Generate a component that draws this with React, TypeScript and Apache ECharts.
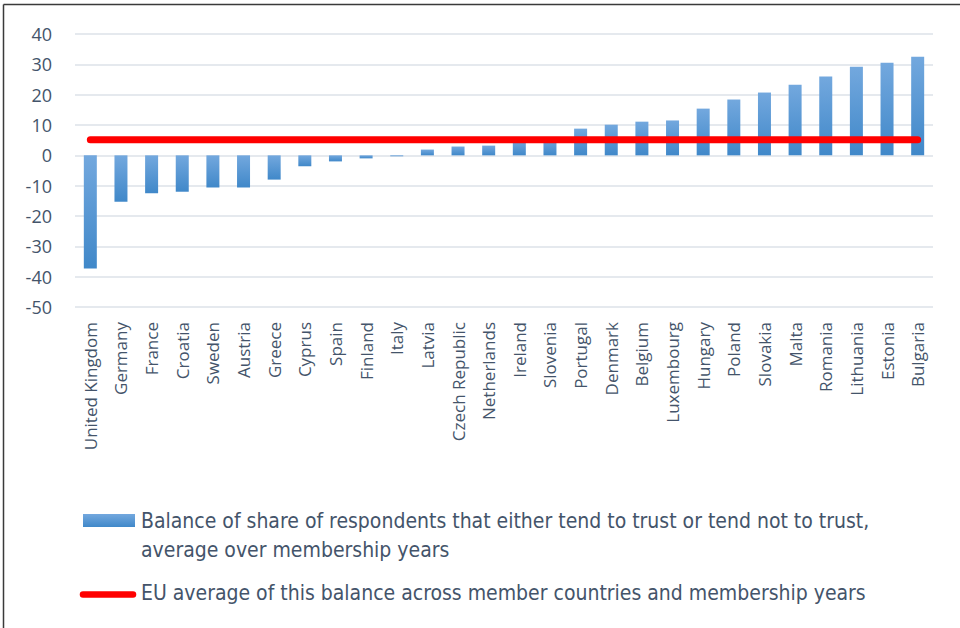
import React, { useEffect, useRef } from "react";
import * as echarts from "echarts";

const countries = [
  "United Kingdom", "Germany", "France", "Croatia", "Sweden", "Austria", "Greece",
  "Cyprus", "Spain", "Finland", "Italy", "Latvia", "Czech Republic", "Netherlands",
  "Ireland", "Slovenia", "Portugal", "Denmark", "Belgium", "Luxembourg", "Hungary",
  "Poland", "Slovakia", "Malta", "Romania", "Lithuania", "Estonia", "Bulgaria",
];
const balance = [
  -37.3, -15.3, -12.5, -12.0, -10.6, -10.6, -8.0, -3.6, -2.0, -1.0, -0.3, 1.9, 2.9, 3.2,
  4.8, 5.3, 8.8, 10.1, 11.1, 11.5, 15.4, 18.4, 20.7, 23.3, 26.0, 29.2, 30.5, 32.5,
];
const euAverage = 5.1;
const yTicks = { min: -50, max: 40, interval: 10 };
const legendBar = [
  "Balance of share of respondents that either tend to trust or tend not to trust,",
  "average over membership years",
];
const legendLine = "EU average of this balance across member countries and membership years";

const textColor = "#44546A";
const axisFont = "'Open Sans', sans-serif";
const legendFont = "'Liberation Sans Narrow', 'DejaVu Sans Condensed', sans-serif";

export default function App() {
  const ref = useRef<HTMLDivElement>(null);
  useEffect(() => {
    if (!ref.current) return;
    const chart = echarts.init(ref.current, null, { renderer: "svg" });
    const barGradient = new echarts.graphic.LinearGradient(0, 0, 0, 1, [
      { offset: 0, color: "#73a8de" },
      { offset: 1, color: "#4088c9" },
    ]);
    chart.setOption({
      animation: false,
      backgroundColor: "#ffffff",
      grid: { left: 75, right: 27, top: 34, bottom: 321, containLabel: false },
      xAxis: {
        type: "category",
        data: countries,
        boundaryGap: true,
        axisLine: { show: false },
        axisTick: { show: false },
        axisLabel: {
          rotate: 90,
          interval: 0,
          margin: 15,
          color: textColor,
          fontFamily: axisFont,
          fontSize: 17,
        },
      },
      yAxis: {
        type: "value",
        min: yTicks.min,
        max: yTicks.max,
        interval: yTicks.interval,
        axisLine: { show: false },
        axisTick: { show: false },
        axisLabel: {
          color: textColor,
          fontFamily: axisFont,
          fontSize: 18,
          margin: 23,
        },
        splitLine: { lineStyle: { color: "#dde2e8", width: 1.5 } },
      },
      series: [
        {
          name: legendBar.join(" "),
          type: "bar",
          data: balance,
          barWidth: 13,
          itemStyle: { color: barGradient },
        },
        {
          name: legendLine,
          type: "line",
          data: countries.map(() => euAverage),
          symbol: "none",
          lineStyle: { color: "#ff0000", width: 7, cap: "round" },
          z: 5,
        },
      ],
      graphic: [
        { type: "line", shape: { x1: 3.5, y1: 4.5, x2: 960, y2: 4.5 }, style: { stroke: "#3a3a3a", lineWidth: 1.5 } },
        { type: "line", shape: { x1: 3.5, y1: 4.5, x2: 3.5, y2: 628 }, style: { stroke: "#3a3a3a", lineWidth: 1.5 } },
        {
          type: "rect",
          shape: { x: 83, y: 514, width: 52, height: 13 },
          style: {
            fill: new echarts.graphic.LinearGradient(0, 0, 0, 1, [
              { offset: 0, color: "#73a8de" },
              { offset: 1, color: "#4088c9" },
            ]),
          },
        },
        {
          type: "text",
          x: 141,
          y: 521,
          style: { text: legendBar[0], fill: textColor, font: `21px ${legendFont}`, verticalAlign: "middle" },
        },
        {
          type: "text",
          x: 141,
          y: 550,
          style: { text: legendBar[1], fill: textColor, font: `21px ${legendFont}`, verticalAlign: "middle" },
        },
        {
          type: "line",
          shape: { x1: 83, y1: 594.5, x2: 133, y2: 594.5 },
          style: { stroke: "#ff0000", lineWidth: 6.5, lineCap: "round" },
        },
        {
          type: "text",
          x: 141,
          y: 593,
          style: { text: legendLine, fill: textColor, font: `21px ${legendFont}`, verticalAlign: "middle" },
        },
      ],
    });
    return () => chart.dispose();
  }, []);
  return (
    <div
      ref={ref}
      style={{ position: "absolute", left: 0, top: 0, width: 960, height: 628 }}
    />
  );
}
